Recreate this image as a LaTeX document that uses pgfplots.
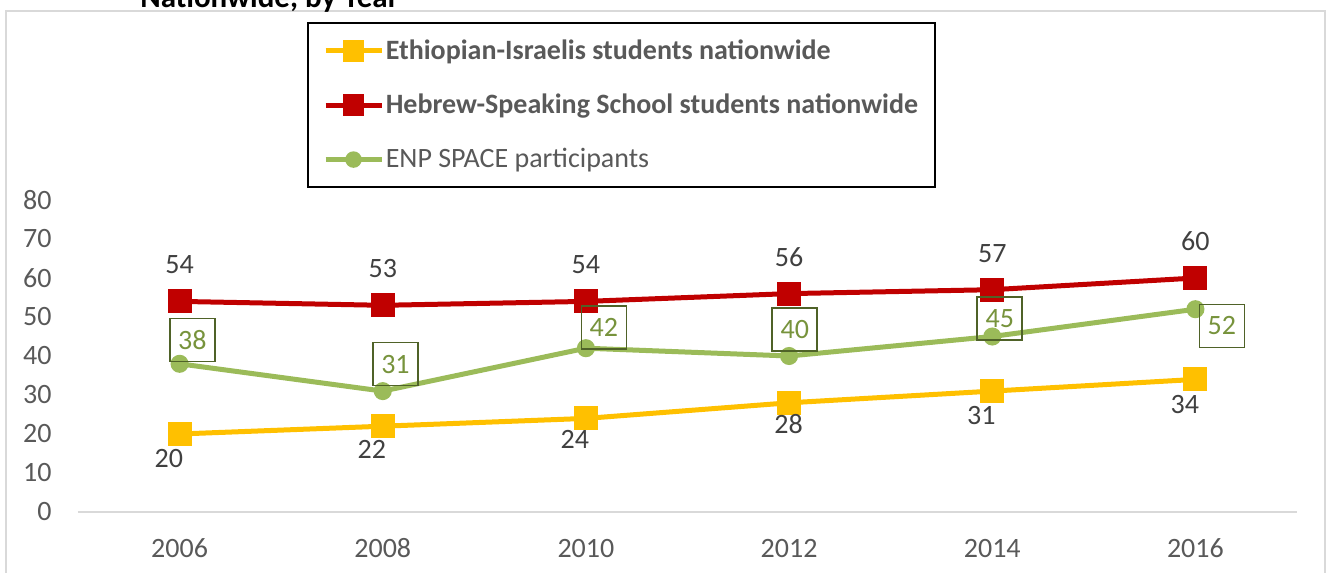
\documentclass[border=0pt]{standalone}
\usepackage{fontspec}
\setmainfont{Carlito}
\usepackage{pgfplots}
\pgfplotsset{compat=1.18}
\definecolor{cyel}{HTML}{FFC000}
\definecolor{cred}{HTML}{C00000}
\definecolor{cgrn}{HTML}{9BBB59}
\definecolor{gbox}{HTML}{4F6228}
\definecolor{gtxt}{HTML}{77933C}
\definecolor{ticktxt}{HTML}{595959}
\definecolor{labtxt}{HTML}{404040}
\definecolor{framec}{HTML}{D9D9D9}
\begin{document}
\begin{tikzpicture}
\begin{axis}[
  at={(0pt,0pt)}, anchor=south west,
  scale only axis, width=609.5pt, height=156pt,
  xmin=2005, xmax=2017, ymin=0, ymax=80,
  axis x line=bottom, axis y line=left,
  x axis line style={-, draw=framec, line width=1pt},
  y axis line style={draw=none},
  major tick length=0pt,
  xtick={2006,2008,2010,2012,2014,2016},
  xticklabels={2006,2008,2010,2012,2014,2016},
  ytick={0,10,20,30,40,50,60,70,80},
  /pgf/number format/assume math mode=true,
  tick label style={font=\fontsize{14}{17}\selectfont, text=ticktxt},
  xticklabel style={anchor=base, inner sep=0pt, yshift=-22.5pt},
  yticklabel style={anchor=east, inner sep=0pt, xshift=-13pt},
  clip=false,
  legend cell align=left,
  legend image code/.code={%
    \draw[#1, every mark/.append style={scale=0.88}, mark repeat=2, mark phase=2]
      plot coordinates {(0pt,0pt) (14pt,0pt) (28pt,0pt)};},
  legend style={at={(0.18786,1.5705)}, anchor=north west, draw=black, line width=1pt,
    inner xsep=7.5pt, inner ysep=6pt, row sep=11.5pt,
    font=\fontsize{14}{17}\selectfont, text=ticktxt,
    nodes={inner xsep=0.9pt, inner ysep=2.2pt}, cells={anchor=west}},
]
% Ethiopian-Israelis
\addplot[cyel, line width=2.5pt, mark=square*, mark size=4.75pt,
  mark options={draw=none, fill=cyel},
  nodes near coords,
  visualization depends on={value \thisrow{dx}\as\dx},
  visualization depends on={value \thisrow{dy}\as\dy},
  every node near coord/.append style={anchor=center, xshift=\dx*0.5pt, yshift=\dy*0.5pt,
    font=\fontsize{14}{17}\selectfont, text=labtxt, inner sep=0pt}]
  table[x=x, y=y] {
x y dx dy
2006 20 -10.7 -25
2008 22 -11 -23.5
2010 24 -11 -21
2012 28 -0.5 -21
2014 31 -11 -24
2016 34 -10.5 -25.5
};
\addlegendentry{\textbf{Ethiopian-Israelis students nationwide}}
% Hebrew-Speaking
\addplot[cred, line width=2.5pt, mark=square*, mark size=4.75pt,
  mark options={draw=none, fill=cred},
  nodes near coords,
  visualization depends on={value \thisrow{dx}\as\dx},
  visualization depends on={value \thisrow{dy}\as\dy},
  every node near coord/.append style={anchor=center, xshift=\dx*0.5pt, yshift=\dy*0.5pt,
    font=\fontsize{14}{17}\selectfont, text=labtxt, inner sep=0pt}]
  table[x=x, y=y] {
x y dx dy
2006 54 0 36.5
2008 53 0 36.5
2010 54 0 36.5
2012 56 0 36.5
2014 57 0 36.5
2016 60 0 36.5
};
\addlegendentry{\textbf{Hebrew-Speaking School students nationwide}}
% ENP SPACE
\addplot[cgrn, line width=2.5pt, mark=*, mark size=3.25pt,
  mark options={draw=none, fill=cgrn},
  nodes near coords,
  visualization depends on={value \thisrow{dx}\as\dx},
  visualization depends on={value \thisrow{dy}\as\dy},
  every node near coord/.append style={anchor=center, xshift=\dx*0.5pt, yshift=\dy*0.5pt,
    font=\fontsize{14}{17}\selectfont, text=gtxt, draw=gbox, line width=0.8pt,
    minimum width=22.5pt, minimum height=21.5pt, inner sep=0pt}]
  table[x=x, y=y] {
x y dx dy
2006 38 12.7 24
2008 31 12.7 27
2010 42 18 21
2012 40 5.7 26.7
2014 45 7.5 18
2016 52 26.5 -16.7
};
\addlegendentry{ENP SPACE participants}
\end{axis}
\draw[framec, line width=1pt] (-36pt,-35pt) -- (-36pt,250.5pt) -- (623.5pt,250.5pt) -- (623.5pt,-35pt);
\node[anchor=base west, inner sep=0pt, font=\fontsize{15.5}{18}\selectfont\bfseries] at (31pt,252pt) {Nationwide, by Year};
\pgfresetboundingbox
\path[use as bounding box] (-39pt,-30pt) rectangle (626.5pt,256pt);
\end{tikzpicture}
\end{document}
